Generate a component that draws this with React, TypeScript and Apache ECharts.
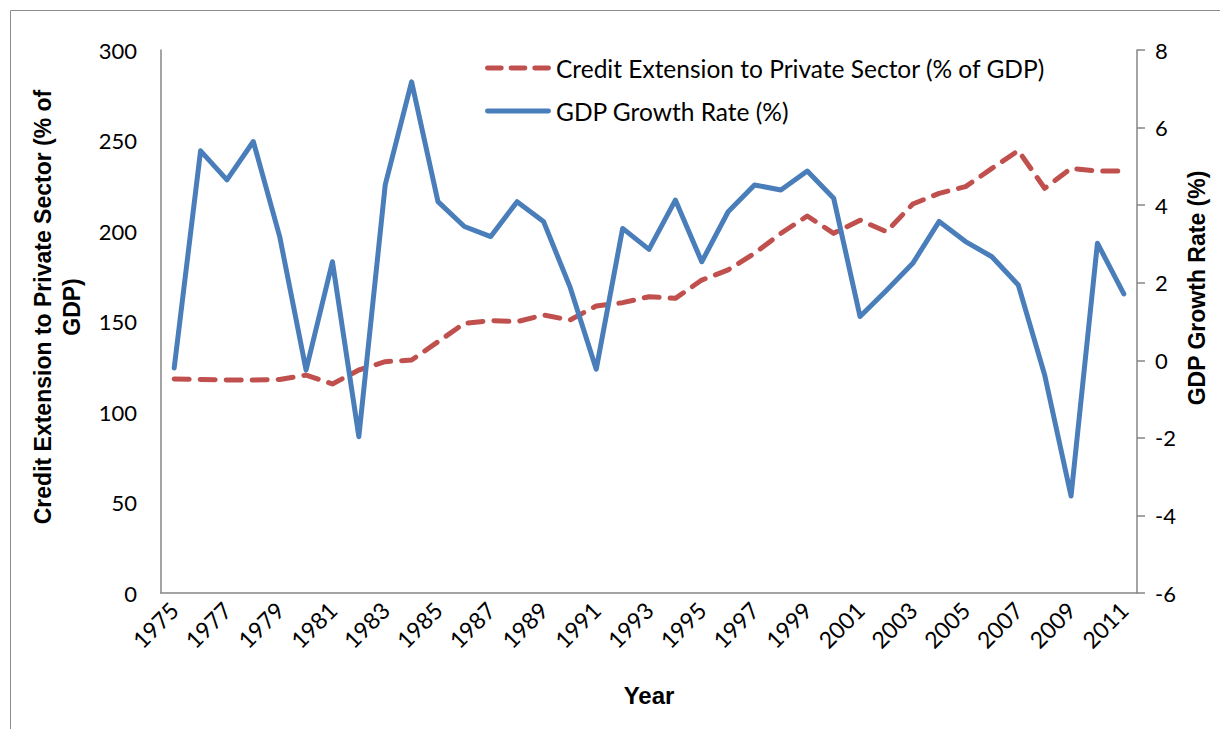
import React, { useEffect, useRef } from "react";
import * as echarts from "echarts";

const years: string[] = [];
for (let y = 1975; y <= 2011; y++) years.push(String(y));

const creditExtension = [
  118.2, 118, 117.7, 117.7, 118, 120.4, 115.5, 123.2, 127.8, 128.7,
  138.8, 149, 150.5, 149.9, 153.6, 150.8, 158.6, 160.4, 163.7, 162.8,
  172.9, 178.5, 187.7, 198.7, 208.3, 198.7, 206, 199.6, 214.9, 220.8,
  224.5, 234.6, 244.4, 223.6, 234.6, 233.1, 233.1,
];

const gdpGrowth = [
  -0.2, 5.4, 4.65, 5.64, 3.19, -0.25, 2.54, -1.97, 4.52, 7.18,
  4.09, 3.45, 3.19, 4.09, 3.58, 1.9, -0.23, 3.4, 2.86, 4.13,
  2.54, 3.83, 4.52, 4.39, 4.88, 4.18, 1.13, 1.8, 2.5, 3.58,
  3.06, 2.67, 1.94, -0.38, -3.5, 3.02, 1.71,
];

const creditName = "Credit Extension to Private Sector (% of GDP)";
const gdpName = "GDP Growth Rate (%)";

export default function App() {
  const ref = useRef<HTMLDivElement>(null);
  useEffect(() => {
    document.body.style.margin = "0";
    if (!ref.current) return;
    const chart = echarts.init(ref.current, undefined, { renderer: "svg" });
    const axisGrey = "#868686";
    const labelFont = "Lato, 'Open Sans', sans-serif";
    const titleFont = "'Liberation Sans', Arial, sans-serif";
    const red = "#C0504D";
    const blue = "#4A7EBB";
    chart.setOption({
      animation: false,
      backgroundColor: "#ffffff",
      grid: { left: 161, right: 83, top: 50, bottom: 136, containLabel: false },
      legend: {
        orient: "vertical",
        left: 480,
        top: 49,
        itemWidth: 66,
        itemHeight: 5,
        itemGap: 15,
        textStyle: { fontFamily: labelFont, fontSize: 24.5, color: "#000", lineHeight: 28 },
        data: [
          {
            name: creditName,
            icon: "path://M2,0h14a2,2 0 0 1 0,5h-14a2,2 0 0 1 0,-5z M26,0h14a2,2 0 0 1 0,5h-14a2,2 0 0 1 0,-5z M50,0h14a2,2 0 0 1 0,5h-14a2,2 0 0 1 0,-5z",
            itemStyle: { color: red },
          },
          {
            name: gdpName,
            icon: "path://M2,0h62a2,2 0 0 1 0,5h-62a2,2 0 0 1 0,-5z",
            itemStyle: { color: blue },
          },
        ],
      },
      xAxis: {
        type: "category",
        data: years,
        boundaryGap: true,
        axisLine: { show: true, lineStyle: { color: axisGrey, width: 1.5 } },
        axisTick: { show: false },
        axisLabel: {
          interval: 1,
          rotate: 45,
          margin: 13,
          fontFamily: labelFont,
          fontSize: 23,
          color: "#000",
        },
        splitLine: { show: false },
      },
      yAxis: [
        {
          type: "value",
          min: 0,
          max: 300,
          interval: 50,
          position: "left",
          axisLine: { show: true, lineStyle: { color: axisGrey, width: 1.5 } },
          axisTick: { show: false },
          axisLabel: { margin: 24, fontFamily: labelFont, fontSize: 22, color: "#000" },
          splitLine: { show: false },
        },
        {
          type: "value",
          min: -6,
          max: 8,
          interval: 2,
          position: "right",
          axisLine: { show: true, lineStyle: { color: axisGrey, width: 1.5 } },
          axisTick: { show: true, inside: false, length: 8, lineStyle: { color: axisGrey, width: 1.5 } },
          axisLabel: { margin: 18, fontFamily: labelFont, fontSize: 22, color: "#000" },
          splitLine: { show: false },
        },
      ],
      series: [
        {
          name: creditName,
          type: "line",
          yAxisIndex: 0,
          data: creditExtension,
          symbol: "none",
          showSymbol: false,
          lineStyle: { color: red, width: 5, type: [15, 11], cap: "round", join: "round" },
          itemStyle: { color: red },
          z: 2,
        },
        {
          name: gdpName,
          type: "line",
          yAxisIndex: 1,
          data: gdpGrowth,
          symbol: "none",
          showSymbol: false,
          lineStyle: { color: blue, width: 5, cap: "round", join: "round" },
          itemStyle: { color: blue },
          z: 3,
        },
      ],
      graphic: [
        {
          type: "rect",
          shape: { x: 10.5, y: 10.5, width: 1300, height: 900 },
          style: { fill: "none", stroke: "#8c8c8c", lineWidth: 1 },
          silent: true,
        },
        {
          type: "text",
          x: 43,
          y: 307,
          rotation: Math.PI / 2,
          style: {
            text: "Credit Extension to Private Sector (% of",
            font: `bold 23px ${titleFont}`,
            fill: "#000",
            align: "center",
            verticalAlign: "middle",
          },
        },
        {
          type: "text",
          x: 72,
          y: 307,
          rotation: Math.PI / 2,
          style: {
            text: "GDP)",
            font: `bold 23px ${titleFont}`,
            fill: "#000",
            align: "center",
            verticalAlign: "middle",
          },
        },
        {
          type: "text",
          x: 1197,
          y: 288,
          rotation: Math.PI / 2,
          style: {
            text: "GDP Growth Rate (%)",
            font: `bold 23px ${titleFont}`,
            fill: "#000",
            align: "center",
            verticalAlign: "middle",
          },
        },
        {
          type: "text",
          x: 649,
          y: 695,
          style: {
            text: "Year",
            font: `bold 24px ${titleFont}`,
            fill: "#000",
            align: "center",
            verticalAlign: "middle",
          },
        },
      ],
    });
    return () => chart.dispose();
  }, []);
  return <div ref={ref} style={{ width: 1220, height: 729 }} />;
}
